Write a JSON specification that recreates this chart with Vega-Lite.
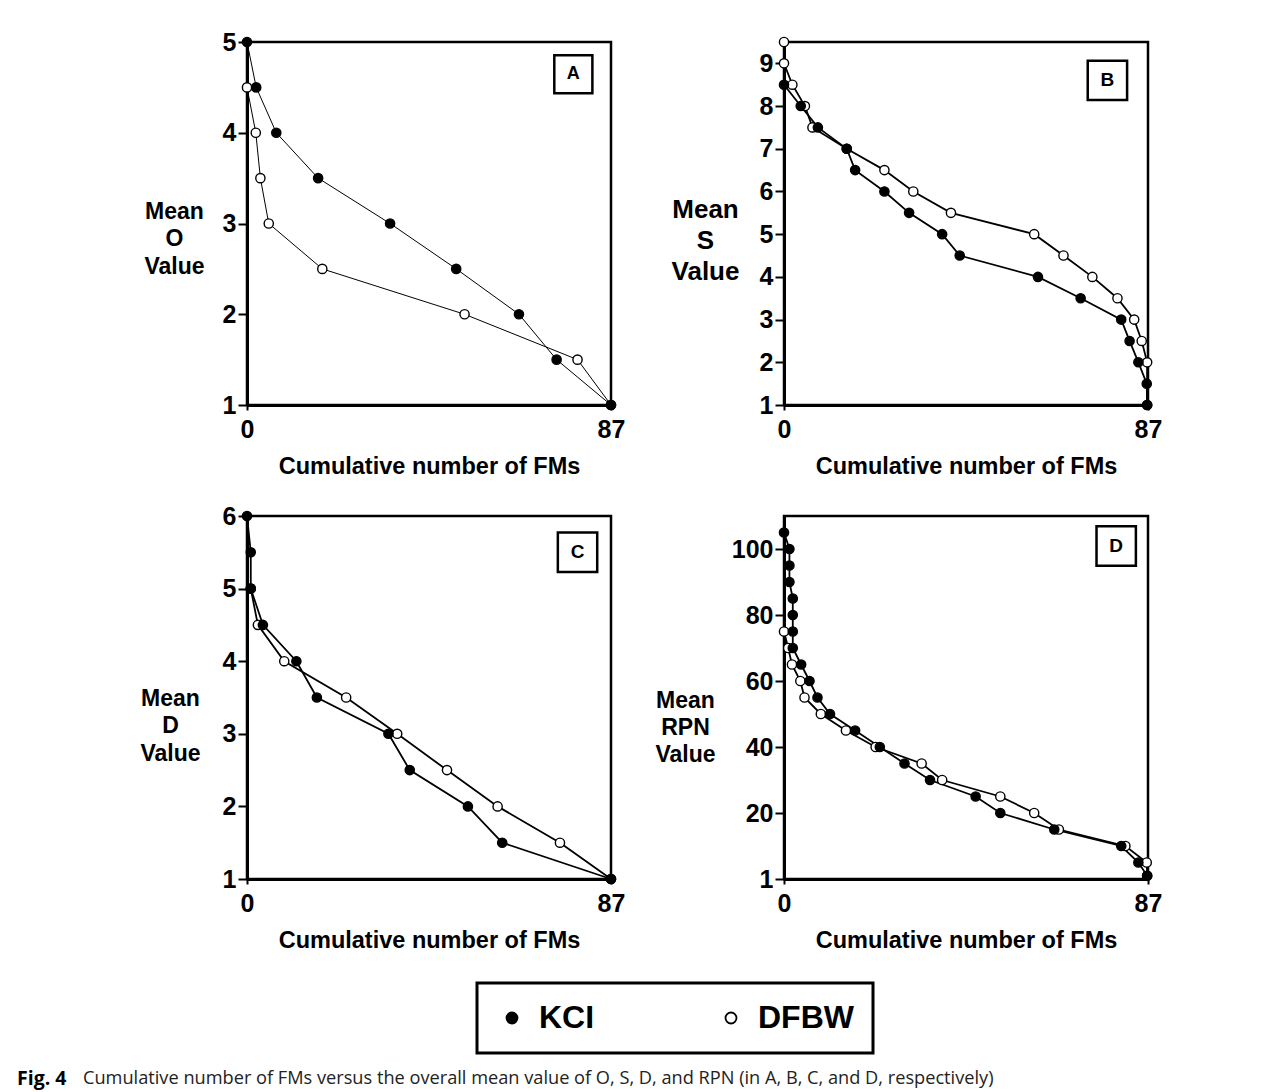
{
  "$schema": "https://vega.github.io/schema/vega-lite/v6.json",
  "background": "white",
  "padding": {"left": 17, "top": 28, "right": 20, "bottom": 5},
  "datasets": {
    "tags": [
      {"panel": "A", "tag": "A", "fm": 78, "val": 4.645},
      {"panel": "B", "tag": "B", "fm": 77.3, "val": 8.6},
      {"panel": "C", "tag": "C", "fm": 79, "val": 5.5},
      {"panel": "D", "tag": "D", "fm": 79.4, "val": 100.9}
    ],
    "fm": [
      {"panel": "A", "series": "DFBW", "x": 0, "y": 4.5},
      {"panel": "A", "series": "DFBW", "x": 2.1, "y": 4},
      {"panel": "A", "series": "DFBW", "x": 3.2, "y": 3.5},
      {"panel": "A", "series": "DFBW", "x": 5.2, "y": 3},
      {"panel": "A", "series": "DFBW", "x": 18, "y": 2.5},
      {"panel": "A", "series": "DFBW", "x": 52, "y": 2},
      {"panel": "A", "series": "DFBW", "x": 79, "y": 1.5},
      {"panel": "A", "series": "DFBW", "x": 87, "y": 1},
      {"panel": "A", "series": "KCI", "x": 0, "y": 5},
      {"panel": "A", "series": "KCI", "x": 2.2, "y": 4.5},
      {"panel": "A", "series": "KCI", "x": 7, "y": 4},
      {"panel": "A", "series": "KCI", "x": 17, "y": 3.5},
      {"panel": "A", "series": "KCI", "x": 34.2, "y": 3},
      {"panel": "A", "series": "KCI", "x": 50, "y": 2.5},
      {"panel": "A", "series": "KCI", "x": 65, "y": 2},
      {"panel": "A", "series": "KCI", "x": 74, "y": 1.5},
      {"panel": "A", "series": "KCI", "x": 87, "y": 1},

      {"panel": "B", "series": "DFBW", "x": 0, "y": 9.5},
      {"panel": "B", "series": "DFBW", "x": 0, "y": 9},
      {"panel": "B", "series": "DFBW", "x": 2, "y": 8.5},
      {"panel": "B", "series": "DFBW", "x": 5, "y": 8},
      {"panel": "B", "series": "DFBW", "x": 6.8, "y": 7.5},
      {"panel": "B", "series": "DFBW", "x": 15, "y": 7},
      {"panel": "B", "series": "DFBW", "x": 24, "y": 6.5},
      {"panel": "B", "series": "DFBW", "x": 30.9, "y": 6},
      {"panel": "B", "series": "DFBW", "x": 39.9, "y": 5.5},
      {"panel": "B", "series": "DFBW", "x": 59.8, "y": 5},
      {"panel": "B", "series": "DFBW", "x": 66.8, "y": 4.5},
      {"panel": "B", "series": "DFBW", "x": 73.7, "y": 4},
      {"panel": "B", "series": "DFBW", "x": 79.7, "y": 3.5},
      {"panel": "B", "series": "DFBW", "x": 83.7, "y": 3},
      {"panel": "B", "series": "DFBW", "x": 85.5, "y": 2.5},
      {"panel": "B", "series": "DFBW", "x": 86.8, "y": 2},
      {"panel": "B", "series": "DFBW", "x": 86.8, "y": 1},
      {"panel": "B", "series": "KCI", "x": 0, "y": 8.5},
      {"panel": "B", "series": "KCI", "x": 4, "y": 8},
      {"panel": "B", "series": "KCI", "x": 8.1, "y": 7.5},
      {"panel": "B", "series": "KCI", "x": 15, "y": 7},
      {"panel": "B", "series": "KCI", "x": 17, "y": 6.5},
      {"panel": "B", "series": "KCI", "x": 24, "y": 6},
      {"panel": "B", "series": "KCI", "x": 29.9, "y": 5.5},
      {"panel": "B", "series": "KCI", "x": 37.8, "y": 5},
      {"panel": "B", "series": "KCI", "x": 42, "y": 4.5},
      {"panel": "B", "series": "KCI", "x": 60.7, "y": 4},
      {"panel": "B", "series": "KCI", "x": 70.9, "y": 3.5},
      {"panel": "B", "series": "KCI", "x": 80.6, "y": 3},
      {"panel": "B", "series": "KCI", "x": 82.6, "y": 2.5},
      {"panel": "B", "series": "KCI", "x": 84.7, "y": 2},
      {"panel": "B", "series": "KCI", "x": 86.7, "y": 1.5},
      {"panel": "B", "series": "KCI", "x": 86.8, "y": 1},

      {"panel": "C", "series": "DFBW", "x": 0.9, "y": 5},
      {"panel": "C", "series": "DFBW", "x": 2.6, "y": 4.5},
      {"panel": "C", "series": "DFBW", "x": 8.9, "y": 4},
      {"panel": "C", "series": "DFBW", "x": 23.7, "y": 3.5},
      {"panel": "C", "series": "DFBW", "x": 35.9, "y": 3},
      {"panel": "C", "series": "DFBW", "x": 47.8, "y": 2.5},
      {"panel": "C", "series": "DFBW", "x": 59.9, "y": 2},
      {"panel": "C", "series": "DFBW", "x": 74.8, "y": 1.5},
      {"panel": "C", "series": "DFBW", "x": 87, "y": 1},
      {"panel": "C", "series": "KCI", "x": 0, "y": 6},
      {"panel": "C", "series": "KCI", "x": 0.9, "y": 5.5},
      {"panel": "C", "series": "KCI", "x": 0.9, "y": 5},
      {"panel": "C", "series": "KCI", "x": 3.8, "y": 4.5},
      {"panel": "C", "series": "KCI", "x": 11.8, "y": 4},
      {"panel": "C", "series": "KCI", "x": 16.7, "y": 3.5},
      {"panel": "C", "series": "KCI", "x": 33.8, "y": 3},
      {"panel": "C", "series": "KCI", "x": 38.9, "y": 2.5},
      {"panel": "C", "series": "KCI", "x": 52.8, "y": 2},
      {"panel": "C", "series": "KCI", "x": 61, "y": 1.5},
      {"panel": "C", "series": "KCI", "x": 87, "y": 1},

      {"panel": "D", "series": "DFBW", "x": 0, "y": 75},
      {"panel": "D", "series": "DFBW", "x": 1, "y": 70},
      {"panel": "D", "series": "DFBW", "x": 1.9, "y": 65},
      {"panel": "D", "series": "DFBW", "x": 3.9, "y": 60},
      {"panel": "D", "series": "DFBW", "x": 4.9, "y": 55},
      {"panel": "D", "series": "DFBW", "x": 8.8, "y": 50},
      {"panel": "D", "series": "DFBW", "x": 14.8, "y": 45},
      {"panel": "D", "series": "DFBW", "x": 21.9, "y": 40},
      {"panel": "D", "series": "DFBW", "x": 32.9, "y": 35},
      {"panel": "D", "series": "DFBW", "x": 37.8, "y": 30},
      {"panel": "D", "series": "DFBW", "x": 51.7, "y": 25},
      {"panel": "D", "series": "DFBW", "x": 59.8, "y": 20},
      {"panel": "D", "series": "DFBW", "x": 65.7, "y": 15},
      {"panel": "D", "series": "DFBW", "x": 81.6, "y": 10},
      {"panel": "D", "series": "DFBW", "x": 86.7, "y": 5},
      {"panel": "D", "series": "DFBW", "x": 86.8, "y": 1},
      {"panel": "D", "series": "KCI", "x": 0, "y": 105},
      {"panel": "D", "series": "KCI", "x": 1.3, "y": 100},
      {"panel": "D", "series": "KCI", "x": 1.3, "y": 95},
      {"panel": "D", "series": "KCI", "x": 1.3, "y": 90},
      {"panel": "D", "series": "KCI", "x": 2.1, "y": 85},
      {"panel": "D", "series": "KCI", "x": 2.1, "y": 80},
      {"panel": "D", "series": "KCI", "x": 2.1, "y": 75},
      {"panel": "D", "series": "KCI", "x": 2.1, "y": 70},
      {"panel": "D", "series": "KCI", "x": 4.1, "y": 65},
      {"panel": "D", "series": "KCI", "x": 6.1, "y": 60},
      {"panel": "D", "series": "KCI", "x": 8, "y": 55},
      {"panel": "D", "series": "KCI", "x": 11, "y": 50},
      {"panel": "D", "series": "KCI", "x": 17, "y": 45},
      {"panel": "D", "series": "KCI", "x": 22.9, "y": 40},
      {"panel": "D", "series": "KCI", "x": 28.8, "y": 35},
      {"panel": "D", "series": "KCI", "x": 34.9, "y": 30},
      {"panel": "D", "series": "KCI", "x": 45.8, "y": 25},
      {"panel": "D", "series": "KCI", "x": 51.7, "y": 20},
      {"panel": "D", "series": "KCI", "x": 64.6, "y": 15},
      {"panel": "D", "series": "KCI", "x": 80.6, "y": 10},
      {"panel": "D", "series": "KCI", "x": 84.7, "y": 5},
      {"panel": "D", "series": "KCI", "x": 86.8, "y": 1}
    ]
  },
  "columns": 2,
  "spacing": {"row": 111, "column": 173},
  "bounds": "flush",
  "resolve": {"scale": {"x": "independent", "y": "independent", "fill": "shared"}, "legend": {"fill": "shared"}},
  "concat": [
    {
      "width": 364, "height": 363,
      "layer": [
        {"data": {"name": "fm"}, "transform": [{"filter": "datum.panel === 'A'"}],
         "mark": {"type": "line", "color": "black", "strokeWidth": 1},
         "encoding": {
           "x": {"field": "x", "type": "quantitative", "scale": {"domain": [0, 87], "nice": false, "zero": false},
                 "axis": {"values": [0, 87], "format": "d", "title": "Cumulative number of FMs"}},
           "y": {"field": "y", "type": "quantitative", "scale": {"domain": [1, 5], "nice": false, "zero": false},
                 "axis": {"values": [1, 2, 3, 4, 5], "format": "d", "title": ["Mean", "O", "Value"], "titleAngle": 0, "titleAlign": "center", "titleBaseline": "middle", "titleX": -73, "titleY": 169, "titleFontSize": 23, "titleLineHeight": 27.5}},
           "detail": {"field": "series"}, "order": {"field": "y", "sort": "descending"}}},
        {"data": {"name": "fm"}, "transform": [{"filter": "datum.panel === 'A'"}],
         "mark": {"type": "point", "filled": true, "stroke": "black", "strokeWidth": 1.4, "size": 85, "opacity": 1},
         "encoding": {
           "x": {"field": "x", "type": "quantitative"},
           "y": {"field": "y", "type": "quantitative"},
           "fill": {"field": "series", "type": "nominal", "scale": {"domain": ["KCI", "DFBW"], "range": ["black", "white"]},
             "legend": {"orient": "none", "legendX": 230, "legendY": 941, "direction": "horizontal", "title": null}}}},
        {"data": {"name": "tags"}, "transform": [{"filter": "datum.panel === 'A'"}],
         "mark": {"type": "point", "shape": "square", "size": 1450, "filled": false, "stroke": "black", "strokeWidth": 2.5, "opacity": 1},
         "encoding": {"x": {"field": "fm", "type": "quantitative"}, "y": {"field": "val", "type": "quantitative"}}},
        {"data": {"name": "tags"}, "transform": [{"filter": "datum.panel === 'A'"}],
         "mark": {"type": "text", "fontSize": 18, "fontWeight": "bold", "align": "center", "baseline": "middle", "color": "black"},
         "encoding": {"x": {"field": "fm", "type": "quantitative"}, "y": {"field": "val", "type": "quantitative"}, "text": {"field": "tag"}}}
      ]
    },
    {
      "width": 364, "height": 363,
      "layer": [
        {"data": {"name": "fm"}, "transform": [{"filter": "datum.panel === 'B'"}],
         "mark": {"type": "line", "color": "black", "strokeWidth": 1.8},
         "encoding": {
           "x": {"field": "x", "type": "quantitative", "scale": {"domain": [0, 87], "nice": false, "zero": false},
                 "axis": {"values": [0, 87], "format": "d", "title": "Cumulative number of FMs"}},
           "y": {"field": "y", "type": "quantitative", "scale": {"domain": [1, 9.5], "nice": false, "zero": false},
                 "axis": {"values": [1, 2, 3, 4, 5, 6, 7, 8, 9], "format": "d", "title": ["Mean", "S", "Value"], "titleAngle": 0, "titleAlign": "center", "titleBaseline": "middle", "titleX": -79, "titleY": 167, "titleFontSize": 26, "titleLineHeight": 31}},
           "detail": {"field": "series"}, "order": {"field": "y", "sort": "descending"}}},
        {"data": {"name": "fm"}, "transform": [{"filter": "datum.panel === 'B'"}],
         "mark": {"type": "point", "filled": true, "stroke": "black", "strokeWidth": 1.4, "size": 85, "opacity": 1},
         "encoding": {
           "x": {"field": "x", "type": "quantitative"},
           "y": {"field": "y", "type": "quantitative"},
           "fill": {"field": "series", "type": "nominal", "scale": {"domain": ["KCI", "DFBW"], "range": ["black", "white"]},
             "legend": {"orient": "none", "legendX": 230, "legendY": 941, "direction": "horizontal", "title": null}}}},
        {"data": {"name": "tags"}, "transform": [{"filter": "datum.panel === 'B'"}],
         "mark": {"type": "point", "shape": "square", "size": 1550, "filled": false, "stroke": "black", "strokeWidth": 2.5, "opacity": 1},
         "encoding": {"x": {"field": "fm", "type": "quantitative"}, "y": {"field": "val", "type": "quantitative"}}},
        {"data": {"name": "tags"}, "transform": [{"filter": "datum.panel === 'B'"}],
         "mark": {"type": "text", "fontSize": 19, "fontWeight": "bold", "align": "center", "baseline": "middle", "color": "black"},
         "encoding": {"x": {"field": "fm", "type": "quantitative"}, "y": {"field": "val", "type": "quantitative"}, "text": {"field": "tag"}}}
      ]
    },
    {
      "width": 364, "height": 363,
      "layer": [
        {"data": {"name": "fm"}, "transform": [{"filter": "datum.panel === 'C'"}],
         "mark": {"type": "line", "color": "black", "strokeWidth": 1.8},
         "encoding": {
           "x": {"field": "x", "type": "quantitative", "scale": {"domain": [0, 87], "nice": false, "zero": false},
                 "axis": {"values": [0, 87], "format": "d", "title": "Cumulative number of FMs"}},
           "y": {"field": "y", "type": "quantitative", "scale": {"domain": [1, 6], "nice": false, "zero": false},
                 "axis": {"values": [1, 2, 3, 4, 5, 6], "format": "d", "title": ["Mean", "D", "Value"], "titleAngle": 0, "titleAlign": "center", "titleBaseline": "middle", "titleX": -77, "titleY": 182, "titleFontSize": 23, "titleLineHeight": 27.5}},
           "detail": {"field": "series"}, "order": {"field": "y", "sort": "descending"}}},
        {"data": {"name": "fm"}, "transform": [{"filter": "datum.panel === 'C'"}],
         "mark": {"type": "point", "filled": true, "stroke": "black", "strokeWidth": 1.4, "size": 85, "opacity": 1},
         "encoding": {
           "x": {"field": "x", "type": "quantitative"},
           "y": {"field": "y", "type": "quantitative"},
           "fill": {"field": "series", "type": "nominal", "scale": {"domain": ["KCI", "DFBW"], "range": ["black", "white"]},
             "legend": {"orient": "none", "legendX": 230, "legendY": 941, "direction": "horizontal", "title": null}}}},
        {"data": {"name": "tags"}, "transform": [{"filter": "datum.panel === 'C'"}],
         "mark": {"type": "point", "shape": "square", "size": 1550, "filled": false, "stroke": "black", "strokeWidth": 2.5, "opacity": 1},
         "encoding": {"x": {"field": "fm", "type": "quantitative"}, "y": {"field": "val", "type": "quantitative"}}},
        {"data": {"name": "tags"}, "transform": [{"filter": "datum.panel === 'C'"}],
         "mark": {"type": "text", "fontSize": 19, "fontWeight": "bold", "align": "center", "baseline": "middle", "color": "black"},
         "encoding": {"x": {"field": "fm", "type": "quantitative"}, "y": {"field": "val", "type": "quantitative"}, "text": {"field": "tag"}}}
      ]
    },
    {
      "width": 364, "height": 363,
      "layer": [
        {"data": {"name": "fm"}, "transform": [{"filter": "datum.panel === 'D'"}],
         "mark": {"type": "line", "color": "black", "strokeWidth": 1.8},
         "encoding": {
           "x": {"field": "x", "type": "quantitative", "scale": {"domain": [0, 87], "nice": false, "zero": false},
                 "axis": {"values": [0, 87], "format": "d", "title": "Cumulative number of FMs"}},
           "y": {"field": "y", "type": "quantitative", "scale": {"domain": [0, 110], "nice": false, "zero": false},
                 "axis": {"values": [0, 20, 40, 60, 80, 100], "format": "d", "labelExpr": "datum.value === 0 ? '1' : datum.label", "title": ["Mean", "RPN", "Value"], "titleAngle": 0, "titleAlign": "center", "titleBaseline": "middle", "titleX": -99, "titleY": 184, "titleFontSize": 23, "titleLineHeight": 27}},
           "detail": {"field": "series"}, "order": {"field": "y", "sort": "descending"}}},
        {"data": {"name": "fm"}, "transform": [{"filter": "datum.panel === 'D'"}],
         "mark": {"type": "point", "filled": true, "stroke": "black", "strokeWidth": 1.4, "size": 85, "opacity": 1},
         "encoding": {
           "x": {"field": "x", "type": "quantitative"},
           "y": {"field": "y", "type": "quantitative"},
           "fill": {"field": "series", "type": "nominal", "scale": {"domain": ["KCI", "DFBW"], "range": ["black", "white"]},
             "legend": {"orient": "none", "legendX": 230, "legendY": 941, "direction": "horizontal", "title": null}}}},
        {"data": {"name": "tags"}, "transform": [{"filter": "datum.panel === 'D'"}],
         "mark": {"type": "point", "shape": "square", "size": 1550, "filled": false, "stroke": "black", "strokeWidth": 2.5, "opacity": 1},
         "encoding": {"x": {"field": "fm", "type": "quantitative"}, "y": {"field": "val", "type": "quantitative"}}},
        {"data": {"name": "tags"}, "transform": [{"filter": "datum.panel === 'D'"}],
         "mark": {"type": "text", "fontSize": 19, "fontWeight": "bold", "align": "center", "baseline": "middle", "color": "black"},
         "encoding": {"x": {"field": "fm", "type": "quantitative"}, "y": {"field": "val", "type": "quantitative"}, "text": {"field": "tag"}}}
      ]
    },
    {
      "width": 364, "height": 178,
      "view": {"stroke": null},
      "data": {"values": [{}]},
      "layer": [
        {"mark": {"type": "text", "text": "Fig. 4", "font": "Open Sans", "fontSize": 19.5, "fontWeight": "bold", "align": "left", "baseline": "middle", "color": "black", "dx": -230},
         "encoding": {"x": {"datum": 0, "type": "quantitative", "scale": {"domain": [0, 1]}, "axis": null},
                      "y": {"datum": 0.5, "type": "quantitative", "scale": {"domain": [0, 1]}, "axis": null}}},
        {"mark": {"type": "text", "text": "Cumulative number of FMs versus the overall mean value of O, S, D, and RPN (in A, B, C, and D, respectively)", "font": "Open Sans", "fontSize": 18.2, "align": "left", "baseline": "middle", "color": "#222222", "dx": -164},
         "encoding": {"x": {"datum": 0, "type": "quantitative", "scale": {"domain": [0, 1]}, "axis": null},
                      "y": {"datum": 0.5, "type": "quantitative", "scale": {"domain": [0, 1]}, "axis": null}}}
      ]
    }
  ],
  "config": {
    "font": "Liberation Sans",
    "view": {"stroke": "black", "strokeWidth": 2.5},
    "axis": {
      "grid": false,
      "domainColor": "black", "domainWidth": 3,
      "tickColor": "black", "tickWidth": 2,
      "labelColor": "black", "labelFont": "Liberation Sans", "labelFontSize": 25, "labelFontWeight": "bold",
      "titleColor": "black", "titleFont": "Liberation Sans", "titleFontWeight": "bold"
    },
    "axisX": {"tickSize": 5, "labelPadding": 7, "labelFlush": false, "titlePadding": 12, "titleFontSize": 23.5},
    "axisY": {"tickSize": 9, "labelPadding": 2},
    "legend": {
      "strokeColor": "black", "strokeWidth": 3, "padding": 19,
      "labelFont": "Liberation Sans", "labelFontSize": 32, "labelFontWeight": "bold", "labelColor": "black",
      "symbolType": "circle", "symbolSize": 120, "symbolStrokeColor": "black", "symbolStrokeWidth": 1.8,
      "labelOffset": 11, "columnPadding": 120
    }
  }
}
